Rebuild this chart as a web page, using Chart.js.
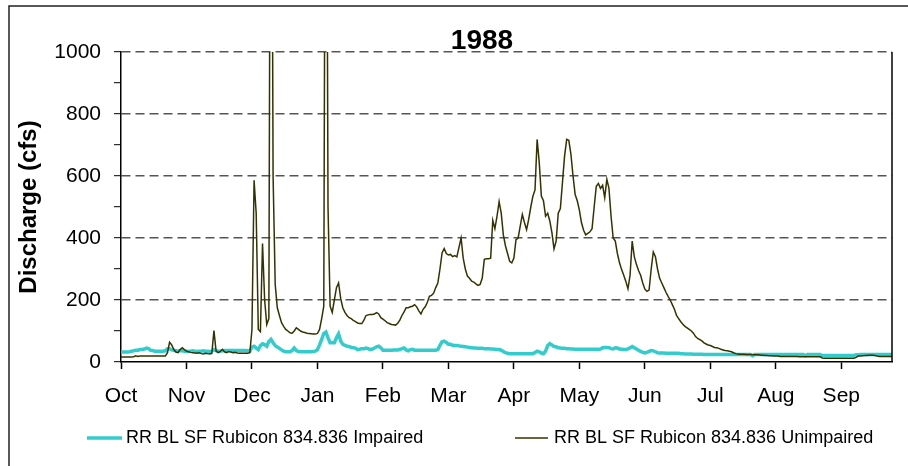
<!DOCTYPE html>
<html>
<head>
<meta charset="utf-8">
<script src="https://cdn.jsdelivr.net/npm/chart.js@4.4.1/dist/chart.umd.min.js"></script>
<style>
html,body{margin:0;padding:0;background:#fff;}
#wrap{width:908px;height:466px;position:relative;}
canvas{display:block;}
</style>
</head>
<body>
<div id="wrap"><canvas id="c" width="908" height="466"></canvas></div>
<script>
// ---- data (water year Oct 1987 - Sep 1988, daily) ----
const chartTitle = '1988';
const yAxisTitle = 'Discharge (cfs)';
const seriesNames = ['RR BL SF Rubicon 834.836 Impaired', 'RR BL SF Rubicon 834.836 Unimpaired'];
const monthLabels = ['Oct','Nov','Dec','Jan','Feb','Mar','Apr','May','Jun','Jul','Aug','Sep'];
const monthTickDays = [0,31,62,93,124,155,186,217,248,279,310,341];
const yMin = 0, yMax = 1000, yStep = 100, yLabelStep = 200;

const impaired = [
  // Oct
  32,32,32,32,33,35,36,38,38,40,40,42,45,43,38,37,35,35,35,35,35,36,43,43,39,38,36,35,37,36,35,
  // Nov
  35,34,35,36,35,34,35,35,36,35,35,34,35,40,37,35,35,36,37,37,37,37,37,37,37,37,37,37,37,36,
  // Dec
  35,48,51,45,40,53,59,56,51,66,73,62,53,48,44,39,35,33,33,33,37,45,37,34,33,33,33,33,33,33,34,
  // Jan
  35,40,55,73,92,97,78,62,62,62,78,91,68,57,54,51,50,47,46,45,40,41,43,43,45,43,40,42,45,49,51,
  // Feb
  46,38,38,38,38,38,39,39,39,40,43,45,39,36,40,41,38,38,38,38,38,38,38,38,38,38,38,40,54,
  // Mar
  65,67,63,57,57,54,53,53,52,51,50,49,48,47,46,45,45,44,44,44,43,43,43,42,42,41,40,40,38,34,30,
  // Apr
  28,27,27,27,27,27,27,27,27,27,27,27,27,31,35,33,29,27,35,53,59,55,50,49,46,45,44,44,43,43,
  // May
  42,42,41,41,41,41,41,41,41,41,41,41,41,41,42,46,47,47,46,43,42,46,45,42,41,40,40,42,46,50,46,
  // Jun
  42,38,34,31,29,31,34,37,36,33,30,29,29,29,28,28,28,28,28,28,28,27,27,26,26,26,26,25,25,25,
  // Jul
  25,25,24,24,24,24,24,24,24,24,24,24,24,24,24,24,24,24,24,24,24,24,24,24,24,20,24,24,24,24,24,
  // Aug
  24,24,24,24,24,24,24,24,24,24,24,24,24,24,24,24,24,24,24,20,24,24,24,24,24,24,24,21,21,21,21,
  // Sep
  21,21,21,21,21,21,21,21,21,21,21,21,23,23,24,24,24,24,24,24,24,24,24,24,24,24,24,24,24,24
];

const unimpaired = [
  // Oct
  16,16,16,16,16,16,17,20,18,19,19,19,19,19,19,19,19,19,19,19,19,19,30,64,55,40,32,30,40,46,40,
  // Nov
  35,33,31,30,29,28,30,27,26,28,27,26,28,101,35,30,34,41,33,30,34,32,30,31,29,28,28,28,28,28,
  // Dec
  30,105,586,480,105,98,382,200,121,140,2500,600,250,175,150,127,115,105,100,94,93,100,110,105,100,97,95,93,92,91,90,
  // Jan
  90,92,105,140,180,2500,500,180,160,200,240,255,205,175,160,150,143,140,134,130,126,124,124,135,150,152,153,153,155,159,155,
  // Feb
  143,138,133,127,124,121,120,119,125,135,150,162,175,175,178,180,185,178,165,155,170,178,192,212,215,222,240,255,300,
  // Mar
  352,366,350,345,347,340,343,339,370,400,335,300,277,270,261,258,252,247,250,270,331,333,333,335,457,430,470,517,480,410,375,
  // Apr
  350,325,320,335,395,400,438,476,450,427,460,500,535,555,718,643,535,520,470,480,455,417,365,390,480,495,580,665,718,715,
  // May
  670,600,540,520,490,449,425,410,415,420,430,500,567,576,560,570,530,589,560,470,400,390,350,320,298,280,260,236,280,390,340,
  // Jun
  315,295,280,255,235,228,232,300,355,340,300,270,255,240,225,212,200,185,170,150,140,130,122,115,110,105,100,93,82,76,
  // Jul
  72,68,62,58,55,53,50,47,46,44,41,39,37,36,35,33,30,27,26,25,25,25,24,24,24,23,23,23,23,22,22,
  // Aug
  21,21,20,20,19,19,19,18,18,18,18,18,18,18,18,18,17,17,17,17,17,17,17,17,17,17,17,13,12,12,12,
  // Sep
  12,12,12,12,12,12,12,12,12,12,12,12,15,19,19,20,21,21,22,22,22,21,19,18,18,18,18,18,18,18
];

const colorImpaired = '#33CCCC';
const colorUnimpaired = '#333300';
const FONT = '"Liberation Sans", Arial, Helvetica, sans-serif';

const toPoints = arr => arr.map((v, i) => ({x: i, y: v}));

const decorPlugin = {
  id: 'decor',
  beforeDraw(chart) {
    const ctx = chart.ctx;
    ctx.save();
    ctx.fillStyle = '#fff';
    ctx.fillRect(0, 0, chart.width, chart.height);
    // outer frame (top & left visible)
    ctx.strokeStyle = '#222';
    ctx.lineWidth = 1.5;
    ctx.beginPath();
    ctx.moveTo(9, chart.height + 2);
    ctx.lineTo(9, 6);
    ctx.lineTo(chart.width + 2, 6);
    ctx.stroke();
    ctx.restore();
  },
  afterDraw(chart) {
    const ctx = chart.ctx;
    const a = chart.chartArea;
    ctx.save();
    // right border of plot area
    ctx.strokeStyle = '#000';
    ctx.lineWidth = 1.5;
    ctx.beginPath();
    ctx.moveTo(a.right, a.top);
    ctx.lineTo(a.right, a.bottom);
    ctx.stroke();
    // title
    ctx.fillStyle = '#000';
    ctx.font = 'bold 28px ' + FONT;
    ctx.textAlign = 'center';
    ctx.textBaseline = 'alphabetic';
    ctx.fillText(chartTitle, 482, 49);
    // legend
    const ds = chart.data.datasets;
    const items = [
      {x0: 87, x1: 122, tx: 126, ds: ds[1]},
      {x0: 515, x1: 548, tx: 554, ds: ds[0]}
    ];
    const ly = 438;
    ctx.font = '18px ' + FONT;
    ctx.textAlign = 'left';
    ctx.textBaseline = 'middle';
    items.forEach(it => {
      ctx.strokeStyle = it.ds.borderColor;
      ctx.lineWidth = it.ds.borderWidth;
      ctx.beginPath();
      ctx.moveTo(it.x0, ly);
      ctx.lineTo(it.x1, ly);
      ctx.stroke();
      ctx.fillStyle = '#000';
      ctx.fillText(it.ds.label, it.tx, ly);
    });
    ctx.restore();
  }
};

new Chart(document.getElementById('c'), {
  type: 'line',
  data: {
    datasets: [
      {
        label: seriesNames[1],
        data: toPoints(unimpaired),
        borderColor: colorUnimpaired,
        borderWidth: 1.5,
        pointRadius: 0,
        tension: 0,
        order: 0
      },
      {
        label: seriesNames[0],
        data: toPoints(impaired),
        borderColor: colorImpaired,
        borderWidth: 3.5,
        pointRadius: 0,
        tension: 0,
        order: 1
      }
    ]
  },
  options: {
    responsive: false,
    animation: false,
    devicePixelRatio: 1,
    layout: {padding: {top: 52, right: 16, bottom: 0, left: 0}},
    plugins: {legend: {display: false}, title: {display: false}, tooltip: {enabled: false}},
    scales: {
      x: {
        type: 'linear',
        min: 0,
        max: unimpaired.length - 1,
        afterBuildTicks(scale) { scale.ticks = monthTickDays.map(v => ({value: v})); },
        afterFit(scale) { scale.height = 104; },
        ticks: {
          autoSkip: false,
          maxRotation: 0,
          padding: 15,
          color: '#000',
          font: {family: FONT, size: 21},
          callback: (v) => monthLabels[monthTickDays.indexOf(v)]
        },
        grid: {drawOnChartArea: false, drawTicks: true, tickLength: 7, tickColor: '#000', tickWidth: 1.5},
        border: {display: true, color: '#000', width: 1.5}
      },
      y: {
        type: 'linear',
        min: yMin,
        max: yMax,
        afterFit(scale) { scale.width = 121; },
        ticks: {
          stepSize: yStep,
          padding: 13,
          color: '#000',
          font: {family: FONT, size: 21},
          callback: (v) => (v % yLabelStep === 0 ? String(v) : '')
        },
        grid: {
          drawTicks: true,
          tickLength: 7,
          tickColor: '#000',
          tickWidth: 1,
          lineWidth: 1.4,
          color: (ctx) => (ctx.tick && ctx.tick.value % yLabelStep === 0 && ctx.tick.value > 0 ? '#555' : 'rgba(0,0,0,0)')
        },
        border: {display: true, color: '#000', width: 1.5, dash: [9, 5]},
        title: {
          display: true,
          text: yAxisTitle,
          color: '#000',
          font: {family: FONT, size: 24, weight: 'bold'},
          padding: {top: 15, bottom: 0}
        }
      }
    }
  },
  plugins: [decorPlugin]
});
</script>
</body>
</html>
